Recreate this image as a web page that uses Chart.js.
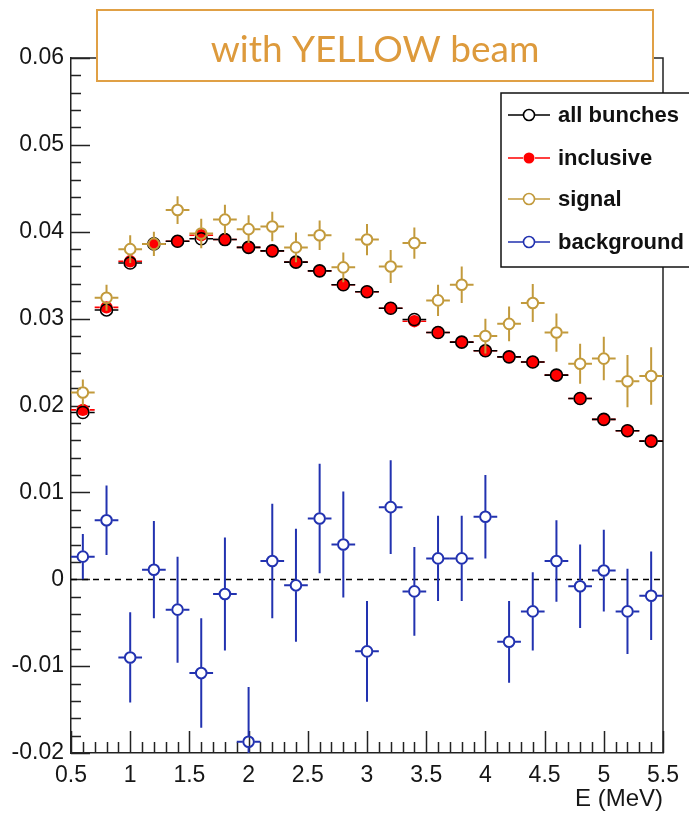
<!DOCTYPE html>
<html>
<head>
<meta charset="utf-8">
<script src="https://cdn.jsdelivr.net/npm/chart.js@4/dist/chart.umd.min.js"></script>
<style>
html,body{margin:0;padding:0;background:#fff;}
canvas{display:block;}
</style>
</head>
<body>
<canvas id="c" width="689" height="814"></canvas>
<script>
// ---- data ----
const energies = [0.6,0.8,1.0,1.2,1.4,1.6,1.8,2.0,2.2,2.4,2.6,2.8,3.0,3.2,3.4,3.6,3.8,4.0,4.2,4.4,4.6,4.8,5.0,5.2,5.4];
const binHalfWidth = 0.1;

const allBunches    = [0.0192,0.0310,0.0364,0.0386,0.0389,0.0392,0.0391,0.0382,0.0378,0.0365,0.0355,0.0339,0.0331,0.0312,0.0299,0.0284,0.0273,0.0263,0.0256,0.0250,0.0235,0.0208,0.0184,0.0171,0.0159];
const allBunchesErr = [0.0003,0.0003,0.0003,0.0003,0.0003,0.0003,0.0003,0.0003,0.0003,0.0003,0.0003,0.0003,0.0003,0.0003,0.0003,0.0003,0.0003,0.0003,0.0003,0.0003,0.0003,0.0003,0.0003,0.0003,0.0003];

const inclusive     = [0.0195,0.0313,0.0366,0.0386,0.0389,0.0396,0.0391,0.0382,0.0378,0.0365,0.0355,0.0339,0.0331,0.0312,0.0297,0.0284,0.0273,0.0263,0.0256,0.0250,0.0235,0.0208,0.0184,0.0171,0.0159];
const inclusiveErr  = [0.0003,0.0003,0.0003,0.0003,0.0003,0.0003,0.0003,0.0003,0.0003,0.0003,0.0003,0.0003,0.0003,0.0003,0.0003,0.0003,0.0003,0.0003,0.0003,0.0003,0.0003,0.0003,0.0003,0.0003,0.0003];

const signal        = [0.0215,0.0324,0.0380,0.0386,0.0425,0.0398,0.0414,0.0403,0.0406,0.0382,0.0396,0.0359,0.0391,0.0360,0.0387,0.0321,0.0339,0.0280,0.0294,0.0318,0.0284,0.0248,0.0254,0.0228,0.0234];
const signalErr     = [0.0015,0.0015,0.0016,0.0014,0.0016,0.0017,0.0017,0.0016,0.0017,0.0017,0.0017,0.0017,0.0018,0.0019,0.0018,0.0018,0.0021,0.0020,0.0020,0.0022,0.0022,0.0023,0.0025,0.0030,0.0033];

const background    = [0.0026,0.0068,-0.0090,0.0011,-0.0035,-0.0108,-0.0017,-0.0187,0.0021,-0.0007,0.0070,0.0040,-0.0083,0.0083,-0.0014,0.0024,0.0024,0.0072,-0.0072,-0.0037,0.0021,-0.0008,0.0010,-0.0037,-0.0019];
const backgroundErr = [0.0026,0.0040,0.0052,0.0056,0.0061,0.0063,0.0065,0.0063,0.0066,0.0065,0.0063,0.0061,0.0058,0.0054,0.0051,0.0049,0.0049,0.0048,0.0047,0.0045,0.0047,0.0048,0.0047,0.0049,0.0051];

const seriesNames = ['all bunches','inclusive','signal','background'];
const titleText = 'with YELLOW beam';
const xAxisTitle = 'E (MeV)';
const xTickStep = 0.5, yTickStep = 0.01;

// ---- styles ----
const COL_BLACK = '#000000', COL_RED = '#ff0000', COL_GOLD = '#c29a3c', COL_BLUE = '#2232b0';
const AXIS_COL = '#222222';
const TICK_FONT = {family: '"Liberation Sans", Arial, sans-serif', size: 23};

function pts(vals, errs) {
  return energies.map((x, i) => ({x: x, y: vals[i], err: errs[i]}));
}

const datasets = [
  {label: seriesNames[3], data: pts(background, backgroundErr), pointRadius: 5.3, pointBorderWidth: 2, pointBorderColor: COL_BLUE, pointBackgroundColor: 'rgba(0,0,0,0)', ebColor: COL_BLUE, ebWidth: 2},
  {label: seriesNames[2], data: pts(signal, signalErr), pointRadius: 5.3, pointBorderWidth: 2, pointBorderColor: COL_GOLD, pointBackgroundColor: 'rgba(0,0,0,0)', ebColor: COL_GOLD, ebWidth: 2},
  {label: seriesNames[0], data: pts(allBunches, allBunchesErr), pointRadius: 6, pointBorderWidth: 1.6, pointBorderColor: COL_BLACK, pointBackgroundColor: 'rgba(0,0,0,0)', ebColor: COL_BLACK, ebWidth: 1.6},
  {label: seriesNames[1], data: pts(inclusive, inclusiveErr), pointRadius: 6.2, pointBorderWidth: 0, pointBorderColor: COL_RED, pointBackgroundColor: COL_RED, ebColor: COL_RED, ebWidth: 1.6}
];
datasets.forEach(d => { d.showLine = false; d.pointHoverRadius = d.pointRadius; });

const fmt = v => String(+Number(v).toFixed(3));

// error bars, drawn before each dataset's markers
const errorBars = {
  id: 'errorBars',
  beforeDatasetDraw(chart, args) {
    const ds = chart.data.datasets[args.index];
    const {ctx, chartArea: ca, scales: {x, y}} = chart;
    ctx.save();
    ctx.beginPath();
    ctx.rect(ca.left, ca.top, ca.right - ca.left, ca.bottom - ca.top);
    ctx.clip();
    ctx.strokeStyle = ds.ebColor;
    ctx.lineWidth = ds.ebWidth;
    const gap = ds.pointRadius + 0.5;
    ds.data.forEach(p => {
      const px = x.getPixelForValue(p.x), py = y.getPixelForValue(p.y);
      const xl = x.getPixelForValue(p.x - binHalfWidth), xr = x.getPixelForValue(p.x + binHalfWidth);
      const yt = y.getPixelForValue(p.y + p.err), yb = y.getPixelForValue(p.y - p.err);
      ctx.beginPath();
      ctx.moveTo(xl, py); ctx.lineTo(px - gap, py);
      ctx.moveTo(px + gap, py); ctx.lineTo(xr, py);
      if (py - yt > gap) { ctx.moveTo(px, py - gap); ctx.lineTo(px, yt); }
      if (yb - py > gap) { ctx.moveTo(px, py + gap); ctx.lineTo(px, yb); }
      ctx.stroke();
    });
    ctx.restore();
  }
};

// frame, inward ticks, zero line
const frame = {
  id: 'frame',
  beforeDatasetsDraw(chart) {
    const {ctx, chartArea: ca, scales: {x, y}} = chart;
    ctx.save();
    ctx.strokeStyle = AXIS_COL;
    ctx.lineWidth = 1.5;
    ctx.beginPath();
    ctx.moveTo(ca.left, ca.top); ctx.lineTo(ca.right, ca.top); ctx.lineTo(ca.right, ca.bottom);
    ctx.stroke();
    // x ticks
    ctx.beginPath();
    for (let i = 0; i <= 50; i++) {
      const v = x.min + i * 0.1;
      const px = Math.round(x.getPixelForValue(v)) + 0.5;
      const len = (i % 5 === 0) ? 22 : 11;
      ctx.moveTo(px, ca.bottom); ctx.lineTo(px, ca.bottom - len);
    }
    // y ticks
    for (let i = 0; i <= 40; i++) {
      const v = y.min + i * 0.002;
      const py = Math.round(y.getPixelForValue(v)) + 0.5;
      const len = (i % 5 === 0) ? 19 : 10;
      ctx.moveTo(ca.left, py); ctx.lineTo(ca.left + len, py);
    }
    ctx.stroke();
    // zero dashed line
    const y0 = Math.round(y.getPixelForValue(0)) + 0.5;
    ctx.setLineDash([6, 5]);
    ctx.lineWidth = 1.5;
    ctx.strokeStyle = '#000';
    ctx.beginPath();
    ctx.moveTo(ca.left, y0); ctx.lineTo(ca.right, y0);
    ctx.stroke();
    ctx.restore();
  },
  afterDraw(chart) {
    const ctx = chart.ctx;
    ctx.save();
    // title box
    ctx.fillStyle = '#ffffff';
    ctx.fillRect(97, 10, 556, 71);
    ctx.strokeStyle = '#e0a045';
    ctx.lineWidth = 2;
    ctx.strokeRect(97, 10, 556, 71);
    ctx.fillStyle = '#dd9a3c';
    ctx.font = '37px Lato, "Open Sans", sans-serif';
    ctx.textAlign = 'center';
    ctx.textBaseline = 'alphabetic';
    ctx.fillText(titleText, 375, 62);
    // legend box
    ctx.fillStyle = '#ffffff';
    ctx.fillRect(501, 93, 200, 174);
    ctx.strokeStyle = '#111';
    ctx.lineWidth = 1.5;
    ctx.strokeRect(501, 93, 200, 174);
    const rows = [
      {name: seriesNames[0], col: COL_BLACK, fill: null, y: 115},
      {name: seriesNames[1], col: COL_RED, fill: COL_RED, y: 158},
      {name: seriesNames[2], col: COL_GOLD, fill: null, y: 199},
      {name: seriesNames[3], col: COL_BLUE, fill: null, y: 242}
    ];
    ctx.font = 'bold 22px "Liberation Sans", Arial, sans-serif';
    ctx.textAlign = 'left';
    ctx.textBaseline = 'middle';
    rows.forEach(r => {
      ctx.strokeStyle = r.col;
      ctx.lineWidth = 1.5;
      ctx.beginPath();
      ctx.moveTo(508, r.y); ctx.lineTo(523, r.y);
      ctx.moveTo(535, r.y); ctx.lineTo(550, r.y);
      ctx.stroke();
      ctx.beginPath();
      ctx.arc(529, r.y, 5.5, 0, Math.PI * 2);
      if (r.fill) { ctx.fillStyle = r.fill; ctx.fill(); }
      else { ctx.fillStyle = '#fff'; ctx.fill(); ctx.lineWidth = 1.6; ctx.stroke(); }
      ctx.fillStyle = '#111';
      ctx.fillText(r.name, 558, r.y + 1);
    });
    ctx.restore();
  }
};

new Chart(document.getElementById('c'), {
  type: 'scatter',
  data: {datasets: datasets},
  plugins: [frame, errorBars],
  options: {
    responsive: false,
    animation: false,
    devicePixelRatio: 1,
    layout: {padding: {top: 58, right: 26, left: 0, bottom: 0}},
    plugins: {legend: {display: false}, tooltip: {enabled: false}},
    scales: {
      x: {
        type: 'linear', min: 0.5, max: 5.5,
        afterFit(s) { s.height = 61; },
        grid: {display: false, drawTicks: false},
        border: {display: true, color: AXIS_COL, width: 1.5},
        ticks: {stepSize: xTickStep, autoSkip: false, maxRotation: 0, padding: 9, color: '#161616', font: TICK_FONT, callback: v => fmt(v)},
        title: {display: true, text: xAxisTitle, align: 'end', color: '#161616', font: {family: TICK_FONT.family, size: 24}, padding: {top: 0, bottom: 0}}
      },
      y: {
        type: 'linear', min: -0.02, max: 0.06,
        afterFit(s) { s.width = 71; },
        grid: {display: false, drawTicks: false},
        border: {display: true, color: AXIS_COL, width: 1.5},
        ticks: {stepSize: yTickStep, autoSkip: false, padding: 7, color: '#161616', font: TICK_FONT, callback: v => fmt(v)}
      }
    }
  }
});
</script>
</body>
</html>
